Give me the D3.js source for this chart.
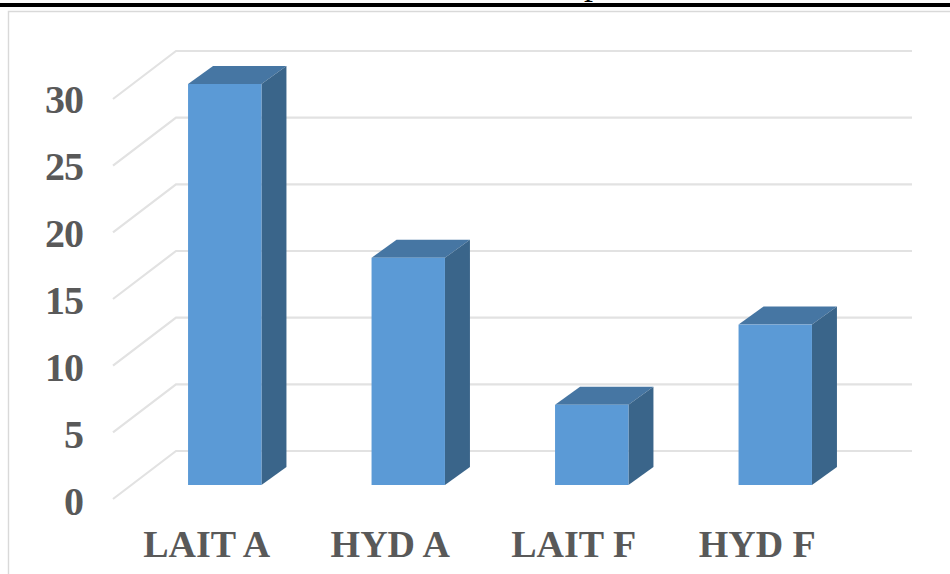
<!DOCTYPE html>
<html>
<head>
<meta charset="utf-8">
<script src="https://cdn.jsdelivr.net/npm/d3@7/dist/d3.min.js"></script>
<style>
  html, body { margin: 0; padding: 0; background: #fff; }
  svg { display: block; }
  text { font-family: "Liberation Serif", serif; font-weight: bold; fill: #595959; }
</style>
</head>
<body>
<svg id="chart" width="950" height="574"></svg>
<script>
// Pseudo-3D column chart: values per sample
const categories = ["LAIT A", "HYD A", "LAIT F", "HYD F"];
const values = [30, 17, 6, 12];
const tickValues = [0, 5, 10, 15, 20, 25, 30];

const svg = d3.select("#chart");

// Shared layout of the 3D box
const depthX = 25, depthY = -18;
const wallDepthX = 63, wallDepthY = -48;
const blue = "#5b9ad6", top3d = "#4676a3", side3d = "#3a658a";

// Value scale measured on the plane of the bars' front faces
const y = d3.scaleLinear().domain([0, 30]).range([485, 84]);
// Axis ticks sit lower on the floor's front edge
const yFront = d3.scaleLinear().domain([0, 30]).range([499, 99]);
// Baselines of the value labels
const yLabel = d3.scaleLinear().domain([0, 30]).range([515, 113]);
const x = d3.scaleBand().domain(categories).range([133, 867]).paddingInner(0.6).paddingOuter(0.3);

// Page rule, the foot of the text running above it, and the chart frame
svg.append("text").attr("x", 584).attr("y", -6).attr("font-size", 36)
  .style("fill", "#000").style("font-weight", "normal").text("p");
svg.append("rect").attr("x", 0).attr("y", 3).attr("width", 950).attr("height", 4).attr("fill", "#000");
svg.append("path").attr("d", "M8.5,574V11.5H950").attr("fill", "none").attr("stroke", "#d9d9d9").attr("stroke-width", 1.4);

// Wall gridlines with the slanted stub running to the axis labels
const grid = svg.append("g").attr("fill", "none").attr("stroke", "#e2e2e2").attr("stroke-width", 2.2);
tickValues.forEach(v => {
  const y0 = yFront(v);
  grid.append("path").attr("d", `M113,${y0}L${113 + wallDepthX},${y0 + wallDepthY}H912`);
});

// Columns: front, top and side faces
const bars = svg.append("g").selectAll("g").data(categories).join("g");
bars.each(function (c, i) {
  const g = d3.select(this);
  const x0 = x(c), w = x.bandwidth(), yt = y(values[i]), yb = y(0);
  g.append("path").attr("fill", top3d)
    .attr("d", `M${x0},${yt}L${x0 + depthX},${yt + depthY}H${x0 + w + depthX}L${x0 + w},${yt}Z`);
  g.append("path").attr("fill", side3d)
    .attr("d", `M${x0 + w},${yt}L${x0 + w + depthX},${yt + depthY}V${yb + depthY}L${x0 + w},${yb}Z`);
  g.append("rect").attr("x", x0).attr("y", yt).attr("width", w).attr("height", yb - yt).attr("fill", blue);
});

// Value axis labels
svg.append("g").selectAll("text").data(tickValues).join("text")
  .attr("x", 83).attr("y", d => yLabel(d))
  .attr("text-anchor", "end").attr("font-size", 40).attr("letter-spacing", -1)
  .text(d => d);

// Category labels, centred a little left of their columns
svg.append("g").selectAll("text").data(categories).join("text")
  .attr("x", c => x(c) + x.bandwidth() / 2 - 18).attr("y", 557)
  .attr("text-anchor", "middle").attr("font-size", 38)
  .text(c => c);
</script>
</body>
</html>
